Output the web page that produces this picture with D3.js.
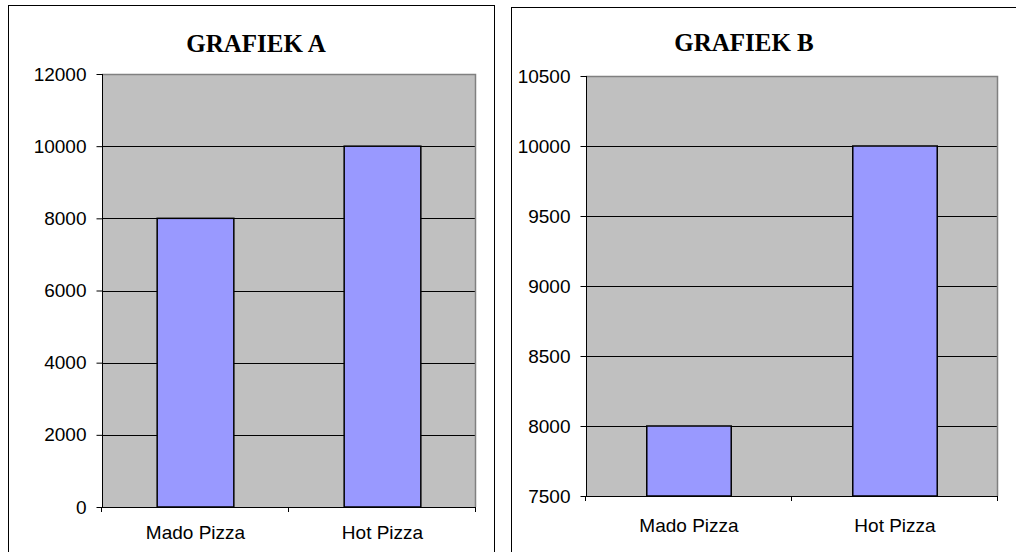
<!DOCTYPE html>
<html>
<head>
<meta charset="utf-8">
<script src="https://cdn.jsdelivr.net/npm/d3@7"></script>
<style>
  body { margin: 0; background: #fff; }
  svg { display: block; }
</style>
</head>
<body>
<svg width="1016" height="552"></svg>
<script>
var categories = ["Mado Pizza", "Hot Pizza"];
var valuesA = [8000, 10000];
var valuesB = [8000, 10000];
var ticksA = [0, 2000, 4000, 6000, 8000, 10000, 12000];
var ticksB = [7500, 8000, 8500, 9000, 9500, 10000, 10500];

var svg = d3.select("svg");

function drawPanel(opt) {
  var g = svg.append("g");

  // outer frame
  g.append("rect")
    .attr("x", opt.frame[0] + 0.5).attr("y", opt.frame[1] + 0.5)
    .attr("width", opt.frame[2]).attr("height", opt.frame[3])
    .attr("fill", "#fff").attr("stroke", "#000").attr("stroke-width", 1);

  g.append("text")
    .attr("x", opt.titleX).attr("y", opt.titleY)
    .attr("text-anchor", "middle")
    .style("font-family", "'Liberation Serif', 'Times New Roman', serif")
    .style("font-weight", "bold")
    .style("font-size", "25px")
    .text(opt.title);

  var x = d3.scaleBand()
    .domain(categories)
    .range([opt.left, opt.right])
    .padding(0);

  var y = d3.scaleLinear()
    .domain([opt.ticks[0], opt.ticks[opt.ticks.length - 1]])
    .range([opt.bottom, opt.top]);

  // plot background
  g.append("rect")
    .attr("x", opt.left).attr("y", opt.top)
    .attr("width", opt.right - opt.left).attr("height", opt.bottom - opt.top)
    .attr("fill", "#c0c0c0");

  // gridlines
  g.selectAll(".grid")
    .data(opt.ticks.slice(1))
    .enter()
    .append("line")
    .attr("class", "grid")
    .attr("x1", opt.left).attr("x2", opt.right)
    .attr("y1", function(d) { return Math.round(y(d)) + 0.5 })
    .attr("y2", function(d) { return Math.round(y(d)) + 0.5 })
    .attr("stroke", "#000").attr("stroke-width", 1);

  // plot border top/right (gray)
  g.append("path")
    .attr("d", "M" + opt.left + "," + (opt.top + 0.5) + "H" + (opt.right - 0.5) + "V" + opt.bottom)
    .attr("fill", "none").attr("stroke", "#808080").attr("stroke-width", 1.5);

  // bars
  var bw = x.bandwidth() * 0.41;
  g.selectAll(".bar")
    .data(opt.values)
    .enter()
    .append("rect")
    .attr("class", "bar")
    .attr("x", function(d, i) { return x(categories[i]) + (x.bandwidth() - bw) / 2 })
    .attr("y", function(d) { return y(d) })
    .attr("width", bw)
    .attr("height", function(d) { return y(opt.ticks[0]) - y(d) })
    .attr("fill", "#9999ff")
    .attr("stroke", "#000")
    .attr("stroke-width", 1.5);

  // y axis
  var yAxis = g.append("g")
    .attr("transform", "translate(" + (opt.left + 0.5) + ",0)")
    .call(d3.axisLeft(y).tickValues(opt.ticks).tickSize(6).tickPadding(10).tickFormat(d3.format("d")));
  yAxis.select(".domain").remove();
  yAxis.selectAll(".tick line").attr("stroke", "#000");
  yAxis.selectAll("text")
    .attr("fill", "#000")
    .style("font-family", "'Liberation Sans', Arial, sans-serif")
    .style("font-size", "19px");

  g.append("line")
    .attr("x1", opt.left + 0.5).attr("x2", opt.left + 0.5)
    .attr("y1", opt.top).attr("y2", opt.bottom)
    .attr("stroke", "#000").attr("stroke-width", 1);

  // x axis
  g.append("line")
    .attr("x1", opt.left).attr("x2", opt.right)
    .attr("y1", opt.bottom + 0.5).attr("y2", opt.bottom + 0.5)
    .attr("stroke", "#000").attr("stroke-width", 1);

  g.selectAll(".xtick")
    .data(d3.range(categories.length + 1))
    .enter()
    .append("line")
    .attr("class", "xtick")
    .attr("x1", function(i) { return Math.round(opt.left + i * x.step()) - 0.5 })
    .attr("x2", function(i) { return Math.round(opt.left + i * x.step()) - 0.5 })
    .attr("y1", opt.bottom).attr("y2", opt.bottom + 5)
    .attr("stroke", "#000");

  g.selectAll(".xlabel")
    .data(categories)
    .enter()
    .append("text")
    .attr("class", "xlabel")
    .attr("x", function(d) { return x(d) + x.bandwidth() / 2 })
    .attr("y", opt.labelY)
    .attr("text-anchor", "middle")
    .style("font-family", "'Liberation Sans', Arial, sans-serif")
    .style("font-size", "19px")
    .text(function(d) { return d });
}

drawPanel({
  frame: [8, 5, 486, 600],
  title: "GRAFIEK A", titleX: 256, titleY: 52,
  left: 102, right: 476, top: 74, bottom: 507,
  values: valuesA, ticks: ticksA, labelY: 539
});

drawPanel({
  frame: [511, 7, 560, 600],
  title: "GRAFIEK B", titleX: 744, titleY: 51,
  left: 586, right: 998, top: 76, bottom: 496,
  values: valuesB, ticks: ticksB, labelY: 532
});
</script>
</body>
</html>
